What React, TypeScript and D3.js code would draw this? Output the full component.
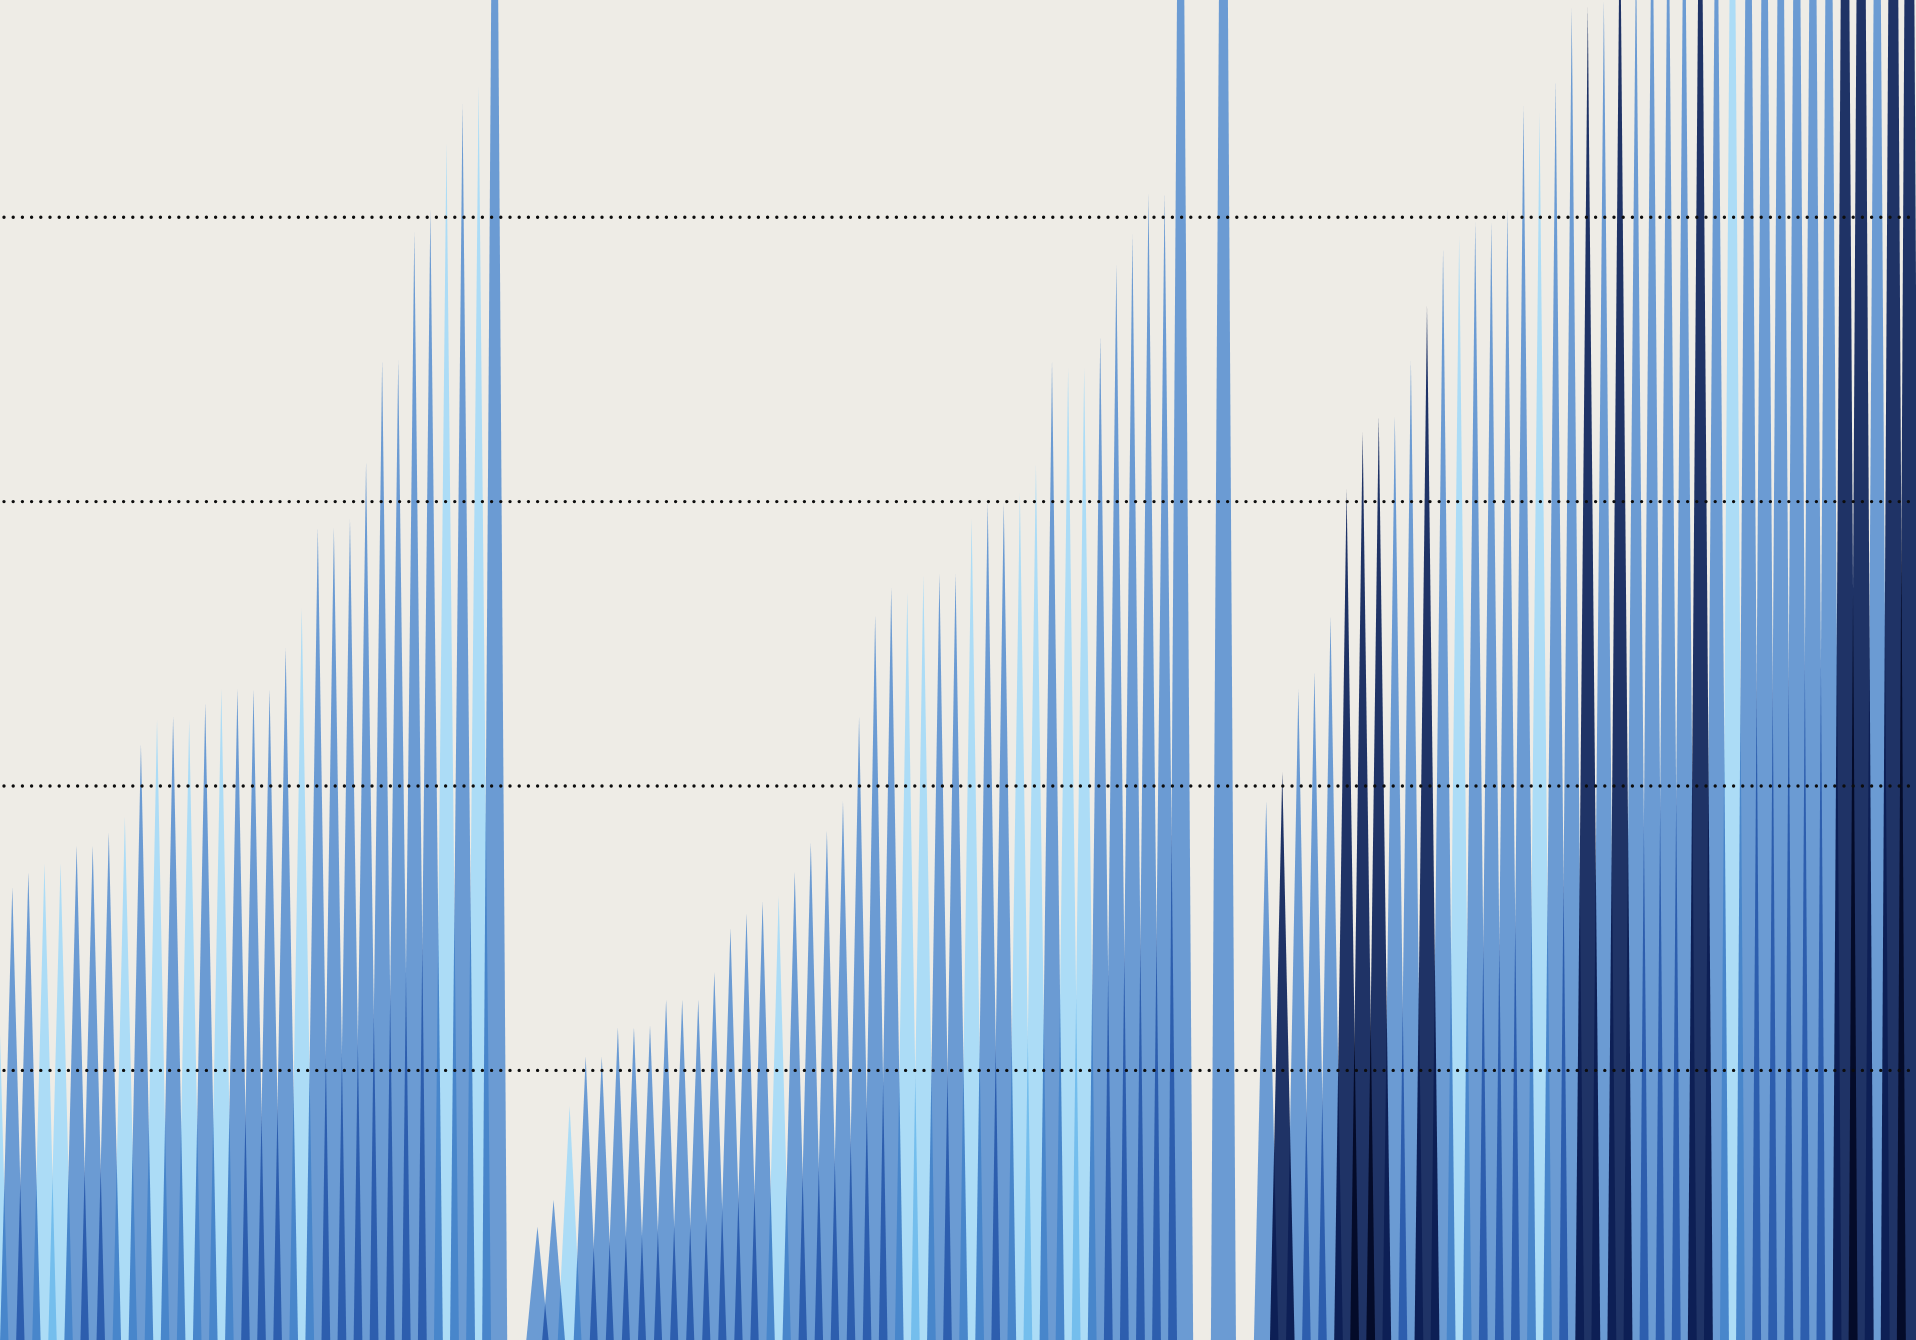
import { useEffect, useRef } from 'react';
import * as d3 from 'd3';

// values, grouped as they appear left to right
const groupOne = [1.61, 1.644, 1.698, 1.728, 1.728, 1.791, 1.791, 1.837, 1.892, 2.147, 2.232, 2.244, 2.232, 2.292, 2.341, 2.341, 2.341, 2.341, 2.486, 2.626, 2.908, 2.908, 2.94, 3.14, 3.498, 3.498, 3.949, 4.03, 4.262, 4.4, 4.463, 6.6];
const groupOneTones = ['L', 'M', 'M', 'L', 'L', 'M', 'M', 'M', 'L', 'M', 'L', 'M', 'L', 'M', 'L', 'M', 'M', 'M', 'M', 'L', 'M', 'M', 'M', 'M', 'M', 'M', 'M', 'M', 'L', 'M', 'L', 'M'];

const groupTwo = [0.45, 0.544, 0.875, 1.049, 1.049, 1.152, 1.152, 1.158, 1.249, 1.249, 1.249, 1.346, 1.5, 1.552, 1.595, 1.613, 1.698, 1.801, 1.843, 1.947, 2.244, 2.602, 2.699, 2.68, 2.741, 2.747, 2.747, 2.942, 2.999, 2.996, 3.031, 3.132, 3.495, 3.47, 3.47, 3.583, 3.834, 3.941, 4.086, 4.086, 6.71];
const groupTwoTones = ['M', 'M', 'L', 'M', 'M', 'M', 'M', 'M', 'M', 'M', 'M', 'M', 'M', 'M', 'M', 'L', 'M', 'M', 'M', 'M', 'M', 'M', 'M', 'L', 'L', 'M', 'M', 'L', 'M', 'M', 'L', 'L', 'M', 'L', 'L', 'M', 'M', 'M', 'M', 'M', 'M'];

const groupThree = [7.41];
const groupThreeTones = ['M'];

const groupFour = [1.947, 2.05, 2.341, 2.402, 2.596, 3.044, 3.245, 3.301, 3.301, 3.495, 3.69, 3.891, 3.935, 3.985, 3.985, 4.029, 4.393, 4.368, 4.481, 4.739, 4.739, 4.764, 5.17, 4.96, 5.34, 5.34, 5.48, 5.85, 5.66, 6.25, 6.49, 6.49, 6.49, 6.71, 6.71, 6.71, 7.27, 7.55, 6.71, 7.9, 7.9];
const groupFourTones = ['M', 'N', 'M', 'M', 'M', 'N', 'N', 'N', 'M', 'M', 'N', 'M', 'L', 'M', 'M', 'M', 'M', 'L', 'M', 'M', 'N', 'M', 'N', 'M', 'M', 'M', 'M', 'N', 'M', 'L', 'M', 'M', 'M', 'M', 'M', 'M', 'N', 'N', 'M', 'N', 'N'];

const gridValues = [1, 2, 3, 4];

const toneColors: Record<string, string> = { L: '#acdcf6', M: '#6b9bd3', N: '#1f3366' };

const App = () => {
  const chartRef = useRef<SVGSVGElement>(null);

  useEffect(() => {
    const width = 1916;
    const height = 1340;
    const gapSlots = 2.66;

    const svg = d3.select(chartRef.current);
    svg.selectAll('*').remove();

    // lay the groups out on one slot axis, with a gap between groups
    const groups = [
      { values: groupOne, tones: groupOneTones },
      { values: groupTwo, tones: groupTwoTones },
      { values: groupThree, tones: groupThreeTones },
      { values: groupFour, tones: groupFourTones },
    ];
    const spikes: { slot: number; value: number; tone: string }[] = [];
    let slot = -1;
    groups.forEach(g => {
      g.values.forEach((v, i) => {
        spikes.push({ slot: slot + i, value: v, tone: g.tones[i] });
      });
      slot = slot + g.values.length - 1 + gapSlots;
    });

    const x = d3.scaleLinear().domain([0, 118]).range([12.3, 1909.7]);
    const y = d3.scaleLinear().domain([0, 4]).range([1354.8, 217.2]);
    const halfBase = 0.784 * (x(1) - x(0));

    svg.append('rect')
      .attr('width', width)
      .attr('height', height)
      .attr('fill', '#eeece6');

    const line = d3.line();

    // overlapping spikes darken each other (multiply inside an isolated group)
    const g = svg.append('g').style('isolation', 'isolate');
    g.selectAll('path')
      .data(spikes)
      .enter()
      .append('path')
      .attr('d', d => line([
        [x(d.slot) - halfBase, y(0)],
        [x(d.slot), y(d.value)],
        [x(d.slot) + halfBase, y(0)],
      ]) + 'Z')
      .attr('fill', d => toneColors[d.tone])
      .style('mix-blend-mode', 'multiply');

    svg.append('g')
      .selectAll('line')
      .data(gridValues)
      .enter()
      .append('line')
      .attr('x1', 4)
      .attr('x2', width)
      .attr('y1', d => y(d))
      .attr('y2', d => y(d))
      .attr('stroke', '#0d0d0d')
      .attr('stroke-width', 3.4)
      .attr('stroke-linecap', 'round')
      .attr('stroke-dasharray', '0 9.2');
  }, []);

  return (
    <svg
      ref={chartRef}
      width={1916}
      height={1340}
      style={{ position: 'absolute', left: 0, top: 0, display: 'block' }}
    />
  );
};

export default App;
